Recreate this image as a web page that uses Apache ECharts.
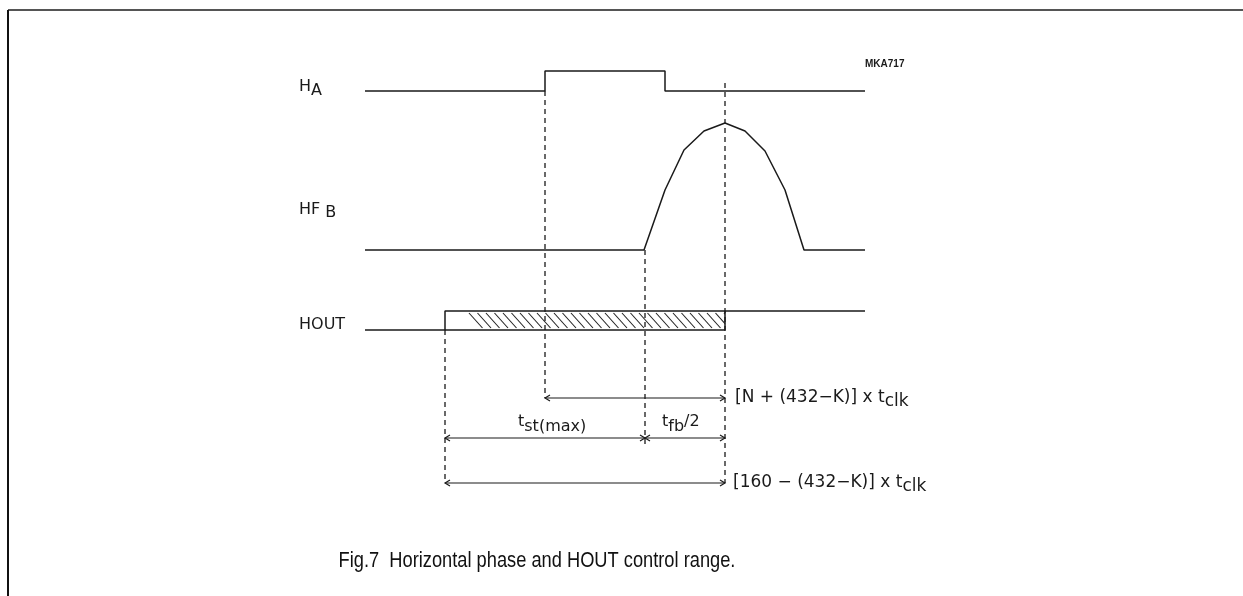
<!DOCTYPE html>
<html>
<head>
<meta charset="utf-8">
<script src="https://cdn.jsdelivr.net/npm/echarts@6/dist/echarts.min.js"></script>
<style>
  html, body { margin: 0; background: #fff; }
  #chart { width: 1243px; height: 596px; }
</style>
</head>
<body>
<div id="chart"></div>
<script>
// time runs 0..100 across the traces, level runs 0..412 (bottom arrow = 0)
const haWave = [[0, 392], [36, 392], [36, 412], [60, 412], [60, 392], [100, 392]];
const hfbWave = [[0, 233], [55.8, 233], [60, 293], [63.8, 333], [67.8, 352], [72, 360],
  [76, 352], [80, 332], [84, 293], [87.8, 233], [100, 233]];
const houtWave = [[0, 153], [16, 153], [16, 172], [100, 172]];
const houtBox = [[16, 153], [72, 153], [72, 172]];
const hatchSpan = [[20.8, 72, 155, 170]];          // x from, x to, level low, level high
const markers = [[16, 153, 0], [36, 392, 85], [56, 233, 35], [72, 400, 0]]; // x, from, to
const spans = [[36, 72, 85], [16, 56, 45], [56, 72, 45], [16, 72, 0]];     // x from, x to, level

const ink = '#1a1a1a';
const small = '16px "DejaVu Sans"';
const mid = '17px "DejaVu Sans"';

// text pieces: [text, vertical offset in px] -- offset > 0 is a subscript
const labels = [
  { at: [-13.2, 396.5], font: small, parts: [['H', 0], ['A', 4]] },
  { at: [-13.2, 273], font: small, parts: [['HF', 0], [' B', 3]] },
  { at: [-13.2, 158.5], font: small, parts: [['HOUT', 0]] },
  { at: [74, 85], font: mid, parts: [['[N + (432\u2212K)] x t', 0], ['clk', 4]] },
  { at: [30.6, 61], font: small, parts: [['t', 0], ['st(max)', 5]] },
  { at: [59.4, 61], font: small, parts: [['t', 0], ['fb', 5], ['/2', 0]] },
  { at: [73.6, 0], font: mid, parts: [['[160 \u2212 (432\u2212K)] x t', 0], ['clk', 4]] },
  { at: [100, 418.5], font: '700 10px "Liberation Sans"', parts: [['MKA717', 0]] }
];

const measureCtx = document.createElement('canvas').getContext('2d');
function textWidth(str, font) {
  measureCtx.font = font;
  return measureCtx.measureText(str).width;
}

function renderMarker(params, api) {
  const a = api.coord([api.value(0), api.value(1)]);
  const b = api.coord([api.value(0), api.value(2)]);
  return {
    type: 'line',
    shape: { x1: a[0], y1: a[1], x2: b[0], y2: b[1] },
    style: { stroke: ink, lineWidth: 1.3, lineDash: [5, 4], fill: 'none' }
  };
}

function renderSpan(params, api) {
  const a = api.coord([api.value(0), api.value(2)]);
  const b = api.coord([api.value(1), api.value(2)]);
  const y = a[1], len = 5, w = 3;
  const st = { stroke: ink, lineWidth: 1.2, fill: 'none' };
  return {
    type: 'group',
    children: [
      { type: 'line', shape: { x1: a[0], y1: y, x2: b[0], y2: y }, style: st },
      { type: 'polyline', shape: { points: [[a[0] + len, y - w], [a[0], y], [a[0] + len, y + w]] }, style: st },
      { type: 'polyline', shape: { points: [[b[0] - len, y - w], [b[0], y], [b[0] - len, y + w]] }, style: st }
    ]
  };
}

function renderHatch(params, api) {
  const p0 = api.coord([api.value(0), api.value(3)]);
  const p1 = api.coord([api.value(1), api.value(2)]);
  const L = p0[0], R = p1[0], T = p0[1], B = p1[1];
  const h = B - T, dx = h * 0.9, step = 8.5;
  const children = [];
  for (let a = L; a < R; a += step) {
    const xs = Math.max(a, L), xe = Math.min(a + dx, R);
    if (xe - xs < 1) continue;
    children.push({
      type: 'line',
      shape: { x1: xs, y1: T + (xs - a) * h / dx, x2: xe, y2: T + (xe - a) * h / dx },
      style: { stroke: '#222', lineWidth: 1.1, fill: 'none' }
    });
  }
  return { type: 'group', children: children };
}

function renderLabel(params, api) {
  const lab = labels[params.dataIndex];
  const p = api.coord([api.value(0), api.value(1)]);
  let x = p[0];
  const children = [];
  lab.parts.forEach(function (part) {
    children.push({
      type: 'text',
      style: { text: part[0], x: x, y: p[1] + part[1], font: lab.font, fill: ink, align: 'left', verticalAlign: 'middle' }
    });
    x += textWidth(part[0], lab.font);
  });
  return { type: 'group', children: children };
}

function wave(data) {
  return {
    type: 'line', data: data, symbol: 'none', clip: false, silent: true,
    lineStyle: { color: ink, width: 1.5 }
  };
}

const chart = echarts.init(document.getElementById('chart'));
chart.setOption({
  animation: false,
  backgroundColor: '#fff',
  grid: { left: 365, right: 378, top: 71, bottom: 113 },
  xAxis: { type: 'value', min: 0, max: 100, show: false },
  yAxis: { type: 'value', min: 0, max: 412, show: false },
  graphic: [
    { type: 'line', shape: { x1: 8, y1: 10, x2: 1243, y2: 10 }, style: { stroke: '#555', lineWidth: 2 } },
    { type: 'line', shape: { x1: 8, y1: 10, x2: 8, y2: 596 }, style: { stroke: '#111', lineWidth: 2 } },
    {
      type: 'text', x: 537, y: 561, scaleX: 0.83,
      style: {
        text: 'Fig.7  Horizontal phase and HOUT control range.',
        font: '22px "Liberation Sans"', fill: '#111', align: 'center', verticalAlign: 'middle'
      }
    }
  ],
  series: [
    wave(haWave),
    wave(hfbWave),
    wave(houtWave),
    wave(houtBox),
    { type: 'custom', data: hatchSpan, renderItem: renderHatch, silent: true },
    { type: 'custom', data: markers, renderItem: renderMarker, silent: true },
    { type: 'custom', data: spans, renderItem: renderSpan, silent: true },
    { type: 'custom', data: labels.map(function (l) { return l.at; }), renderItem: renderLabel, silent: true }
  ]
});
</script>
</body>
</html>
